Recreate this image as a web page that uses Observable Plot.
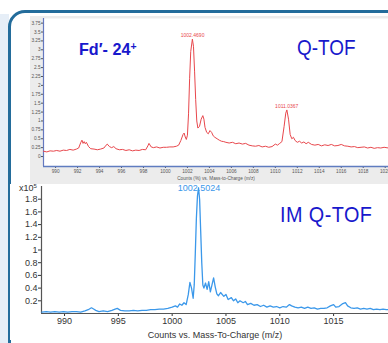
<!DOCTYPE html>
<html><head><meta charset="utf-8">
<script src="https://cdn.jsdelivr.net/npm/d3@7"></script>
<script src="https://cdn.jsdelivr.net/npm/@observablehq/plot@0.6"></script>
<style>
html,body{margin:0;padding:0;background:#fff;overflow:hidden}
#wrap{position:relative;width:388px;height:343px;overflow:hidden;background:#fff;font-family:"Liberation Sans",Arial,sans-serif}
#strip{position:absolute;left:0;top:14px;width:9px;height:340px;background:#e6eef7}
#frame{position:absolute;left:8px;top:10px;width:420px;height:350px;border:3px solid #236c9b;border-radius:17px 0 0 17px;box-sizing:border-box;background:#fff}
.ov{position:absolute;white-space:nowrap;line-height:1}
.big{font-family:"Liberation Sans",Arial,sans-serif;color:#1818cc;transform-origin:0 0}
#topplot{position:absolute;left:30px;top:16px}
#botplot{position:absolute;left:10px;top:184px}
</style></head>
<body>
<div id="wrap">
  <div id="strip"></div>
  <div id="frame"></div>
  <div id="topplot"></div>
  <div id="botplot"></div>
  <div class="ov big" style="left:79px;top:41px;font-size:17px;font-weight:bold;transform:scaleX(0.95)">Fd′- 24<span style="font-size:11px;vertical-align:5px">+</span></div>
  <div class="ov big" style="left:297px;top:37px;font-size:22px;transform:scaleX(0.86)">Q-TOF</div>
  <div class="ov big" style="left:280px;top:204px;font-size:22px;transform:scaleX(0.9);letter-spacing:0.5px">IM Q-TOF</div>
  <div class="ov" style="left:19px;top:183px;font-size:9px;color:#333">x10<span style="font-size:6px;vertical-align:3px">5</span></div>
</div>
<script>
// Q-TOF trace (Counts %)
const qtofMz = [988.9,989.2,989.5,989.8,990.1,990.4,990.7,991.0,991.3,991.6,991.9,992.1,992.3,992.4,992.5,992.6,992.7,992.8,993.0,993.2,993.5,993.8,994.1,994.4,994.6,994.7,994.9,995.1,995.3,995.5,995.8,996.1,996.4,996.7,997.0,997.3,997.6,997.9,998.2,998.4,998.5,998.7,998.9,999.2,999.5,999.8,1000.1,1000.4,1000.7,1001.0,1001.2,1001.4,1001.6,1001.7,1001.8,1001.9,1002.0,1002.1,1002.2,1002.3,1002.45,1002.55,1002.65,1002.75,1002.85,1002.95,1003.1,1003.25,1003.4,1003.5,1003.6,1003.75,1003.9,1004.05,1004.2,1004.35,1004.5,1004.7,1004.9,1005.1,1005.3,1005.5,1005.8,1006.1,1006.4,1006.7,1007.0,1007.3,1007.6,1007.9,1008.2,1008.5,1008.8,1009.1,1009.4,1009.7,1010.0,1010.2,1010.4,1010.6,1010.8,1010.95,1011.05,1011.2,1011.35,1011.5,1011.65,1011.8,1012.0,1012.2,1012.4,1012.6,1012.8,1013.0,1013.3,1013.6,1013.9,1014.2,1014.5,1014.8,1015.1,1015.4,1015.7,1016.0,1016.3,1016.6,1016.9,1017.2,1017.5,1017.8,1018.1,1018.4,1018.7,1019.0,1019.3,1019.6,1019.9,1020.3];
const qtofInt = [0.15,0.13,0.16,0.15,0.17,0.15,0.18,0.17,0.20,0.18,0.21,0.24,0.40,0.46,0.37,0.42,0.36,0.40,0.28,0.22,0.21,0.19,0.21,0.24,0.32,0.35,0.28,0.25,0.28,0.22,0.19,0.20,0.17,0.19,0.16,0.18,0.17,0.20,0.19,0.30,0.37,0.27,0.25,0.27,0.24,0.26,0.26,0.27,0.27,0.29,0.32,0.45,0.62,0.66,0.55,0.48,0.60,1.20,2.20,2.95,3.30,3.10,2.40,1.60,1.00,0.80,0.85,1.05,1.15,1.05,0.82,0.68,0.64,0.73,0.68,0.58,0.54,0.50,0.46,0.43,0.42,0.40,0.38,0.40,0.36,0.38,0.35,0.37,0.32,0.30,0.29,0.31,0.27,0.29,0.26,0.28,0.35,0.32,0.37,0.42,0.85,1.22,1.31,1.05,0.62,0.50,0.54,0.45,0.40,0.43,0.38,0.41,0.36,0.40,0.34,0.32,0.34,0.30,0.33,0.31,0.34,0.30,0.31,0.34,0.30,0.29,0.27,0.28,0.25,0.26,0.27,0.24,0.26,0.23,0.25,0.24,0.26,0.24];
const qtofPeakMz = [1002.4690, 1011.0367];
const qtofPeakInt = [3.30, 1.31];
const qtofPeakLabel = ["1002.4690", "1011.0367"];
const qtofXTicks = [990,992,994,996,998,1000,1002,1004,1006,1008,1010,1012,1014,1016,1018,1020];
const qtofYTicks = [0,0.25,0.5,0.75,1,1.25,1.5,1.75,2,2.25,2.5,2.75,3,3.25,3.5,3.75];
const qtofXDomain = [988.9, 1020.3];
const qtofYDomain = [-0.28, 3.88];

// IM Q-TOF trace (Counts x10^5)
const imMz = [987.9,988.3,988.7,989.1,989.5,989.9,990.3,990.7,991.1,991.5,991.9,992.2,992.5,992.7,992.9,993.2,993.6,994.0,994.4,994.7,994.9,995.2,995.6,996.0,996.4,996.8,997.2,997.6,998.0,998.4,998.8,999.2,999.6,1000.0,1000.3,1000.5,1000.7,1000.9,1001.1,1001.3,1001.5,1001.65,1001.8,1001.95,1002.05,1002.15,1002.25,1002.35,1002.45,1002.55,1002.65,1002.75,1002.85,1002.95,1003.1,1003.25,1003.4,1003.55,1003.7,1003.85,1004.0,1004.15,1004.3,1004.5,1004.8,1005.0,1005.2,1005.5,1005.7,1005.9,1006.1,1006.3,1006.6,1006.8,1007.0,1007.3,1007.6,1007.9,1008.2,1008.5,1008.8,1009.1,1009.4,1009.7,1010.0,1010.3,1010.6,1010.9,1011.1,1011.4,1011.7,1012.0,1012.3,1012.6,1012.9,1013.2,1013.5,1013.8,1014.1,1014.4,1014.7,1015.0,1015.2,1015.5,1015.8,1016.1,1016.3,1016.6,1016.9,1017.2,1017.5,1017.8,1018.1,1018.4,1018.7,1019.0,1019.3,1019.6,1019.9,1020.1];
const imInt = [0.02,0.03,0.02,0.03,0.02,0.03,0.02,0.03,0.03,0.02,0.04,0.06,0.09,0.07,0.05,0.03,0.04,0.03,0.05,0.07,0.08,0.05,0.04,0.04,0.05,0.04,0.05,0.05,0.06,0.06,0.07,0.07,0.08,0.10,0.12,0.10,0.15,0.13,0.17,0.14,0.30,0.49,0.40,0.24,0.45,0.95,1.50,1.85,1.98,1.80,1.30,0.80,0.45,0.40,0.48,0.38,0.50,0.34,0.45,0.56,0.42,0.31,0.28,0.33,0.27,0.30,0.22,0.25,0.20,0.23,0.17,0.20,0.17,0.19,0.14,0.16,0.13,0.14,0.11,0.13,0.10,0.12,0.10,0.11,0.09,0.11,0.10,0.14,0.12,0.10,0.09,0.10,0.08,0.10,0.08,0.09,0.07,0.08,0.08,0.09,0.12,0.14,0.10,0.11,0.15,0.17,0.12,0.09,0.08,0.09,0.07,0.08,0.07,0.08,0.06,0.07,0.06,0.07,0.06,0.06];
const imPeakMz = [1002.5024];
const imPeakInt = [1.98];
const imPeakLabel = ["1002.5024"];
const imXTicks = [990,995,1000,1005,1010,1015];
const imYTicks = [0.2,0.4,0.6,0.8,1,1.2,1.4,1.6,1.8];
const imXDomain = [987.86, 1020.1];
const imYDomain = [0, 2];

const qtof = qtofMz.map((mz, i) => ({mz, v: qtofInt[i]}));
const qtofPeaks = qtofPeakMz.map((mz, i) => ({mz, v: qtofPeakInt[i], t: qtofPeakLabel[i]}));
const im = imMz.map((mz, i) => ({mz, v: imInt[i]}));
const imPeaks = imPeakMz.map((mz, i) => ({mz, v: imPeakInt[i], t: imPeakLabel[i]}));

const red = "#e8474c", blue = "#3b98ea";

const topChart = Plot.plot({
  width: 358, height: 168,
  marginLeft: 13, marginRight: 0, marginTop: 2, marginBottom: 18,
  style: {background: "#ececec", fontSize: "4.7px", fontFamily: "Liberation Sans, Arial, sans-serif", color: "#555", overflow: "visible"},
  x: {domain: qtofXDomain, ticks: qtofXTicks, tickSize: 2, tickPadding: 1.5, tickFormat: d => String(d),
      label: "Counts (%) vs. Mass-to-Charge (m/z)", labelAnchor: "center", labelOffset: 13, labelArrow: "none"},
  y: {domain: qtofYDomain, ticks: qtofYTicks, tickSize: 2, tickPadding: 1, tickFormat: d => String(d), label: null},
  marks: [
    Plot.frame({fill: "white", stroke: null}),
    Plot.ruleX([qtofXDomain[0]], {stroke: "#6478c0", strokeWidth: 1.2}),
    Plot.ruleY([qtofYDomain[0]], {stroke: "#5f7cc0", strokeWidth: 1.5}),
    Plot.line(qtof, {x: "mz", y: "v", stroke: red, strokeWidth: 1}),
    Plot.text(qtofPeaks, {x: "mz", y: "v", text: "t", dy: -2, lineAnchor: "bottom", fill: red, fontSize: 5})
  ]
});
document.getElementById("topplot").append(topChart);

const botChart = Plot.plot({
  width: 378, height: 156,
  marginLeft: 31, marginRight: 0, marginTop: 2, marginBottom: 27,
  style: {background: "white", fontSize: "9px", fontFamily: "Liberation Sans, Arial, sans-serif", color: "#333", overflow: "visible"},
  x: {domain: imXDomain, ticks: imXTicks, tickSize: 3, tickPadding: 1, tickFormat: d => String(d),
      label: "Counts vs. Mass-To-Charge (m/z)", labelAnchor: "center", labelOffset: 24, labelArrow: "none"},
  y: {domain: imYDomain, ticks: imYTicks, tickSize: 3, tickPadding: 1, tickFormat: d => String(d), label: null},
  marks: [
    Plot.ruleX([imXDomain[0]], {stroke: "#555", strokeWidth: 1.2}),
    Plot.ruleY([imYDomain[0]], {stroke: "#555", strokeWidth: 1.2}),
    Plot.line(im, {x: "mz", y: "v", stroke: blue, strokeWidth: 1.3}),
    Plot.text(imPeaks, {x: "mz", y: "v", text: "t", lineAnchor: "middle", fill: blue, fontSize: 9})
  ]
});
document.getElementById("botplot").append(botChart);
</script>
</body></html>
